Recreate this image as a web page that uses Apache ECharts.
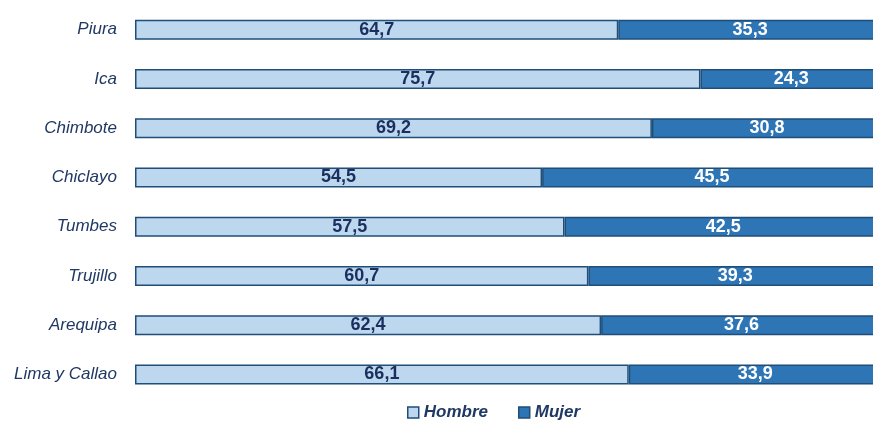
<!DOCTYPE html>
<html>
<head>
<meta charset="utf-8">
<script src="https://cdn.jsdelivr.net/npm/echarts@6/dist/echarts.min.js"></script>
<style>
  html, body { margin: 0; padding: 0; background: #fff; }
  #chart { width: 873px; height: 422px; }
</style>
</head>
<body>
<div id="chart"></div>
<script>
// categorias de arriba hacia abajo
var ciudades = ['Piura', 'Ica', 'Chimbote', 'Chiclayo', 'Tumbes', 'Trujillo', 'Arequipa', 'Lima y Callao'];
var hombre = [64.7, 75.7, 69.2, 54.5, 57.5, 60.7, 62.4, 66.1];
var mujer = [35.3, 24.3, 30.8, 45.5, 42.5, 39.3, 37.6, 33.9];

var fuente = "'Liberation Sans Narrow', 'Arial Narrow', 'Liberation Sans', sans-serif";

function fmt(p) {
    return p.value.toFixed(1).replace('.', ',');
}

var chart = echarts.init(document.getElementById('chart'));
// el 100% queda fuera del lienzo (la imagen original esta recortada a la derecha)
var option = {
    animation: false,
    grid: {
        left: 135,
        top: 5,
        right: 0,
        height: 394
    },
    legend: {
        top: 399,
        left: 402,
        icon: 'rect',
        itemWidth: 11,
        itemHeight: 11,
        itemGap: 30,
        itemStyle: {
            borderColor: '#1f4e79',
            borderWidth: 1.5
        },
        textStyle: {
            fontFamily: fuente,
            fontSize: 17,
            fontWeight: 'bold',
            fontStyle: 'italic',
            color: '#1f3864'
        },
        data: ['Hombre', 'Mujer']
    },
    xAxis: {
        type: 'value',
        min: 0,
        max: 98.8,
        show: false
    },
    yAxis: {
        type: 'category',
        data: ciudades,
        inverse: true,
        axisLine: { show: false },
        axisTick: { show: false },
        axisLabel: {
            margin: 18,
            fontFamily: fuente,
            fontSize: 17,
            fontStyle: 'italic',
            color: '#1f3864'
        }
    },
    series: [
        {
            name: 'Hombre',
            type: 'bar',
            stack: 'total',
            barWidth: 20,
            clip: false,
            data: hombre,
            itemStyle: {
                color: '#bdd7ee',
                borderColor: '#1f4e79',
                borderWidth: 1.5
            },
            label: {
                show: true,
                position: 'inside',
                formatter: fmt,
                fontFamily: fuente,
                fontSize: 18,
                fontWeight: 'bold',
                color: '#1a2f5e'
            }
        },
        {
            name: 'Mujer',
            type: 'bar',
            stack: 'total',
            barWidth: 20,
            clip: false,
            data: mujer,
            itemStyle: {
                color: '#2e75b6',
                borderColor: '#1f4e79',
                borderWidth: 1.5
            },
            label: {
                show: true,
                position: 'inside',
                formatter: fmt,
                fontFamily: fuente,
                fontSize: 18,
                fontWeight: 'bold',
                color: '#ffffff'
            }
        }
    ]
};
chart.setOption(option);
</script>
</body>
</html>
